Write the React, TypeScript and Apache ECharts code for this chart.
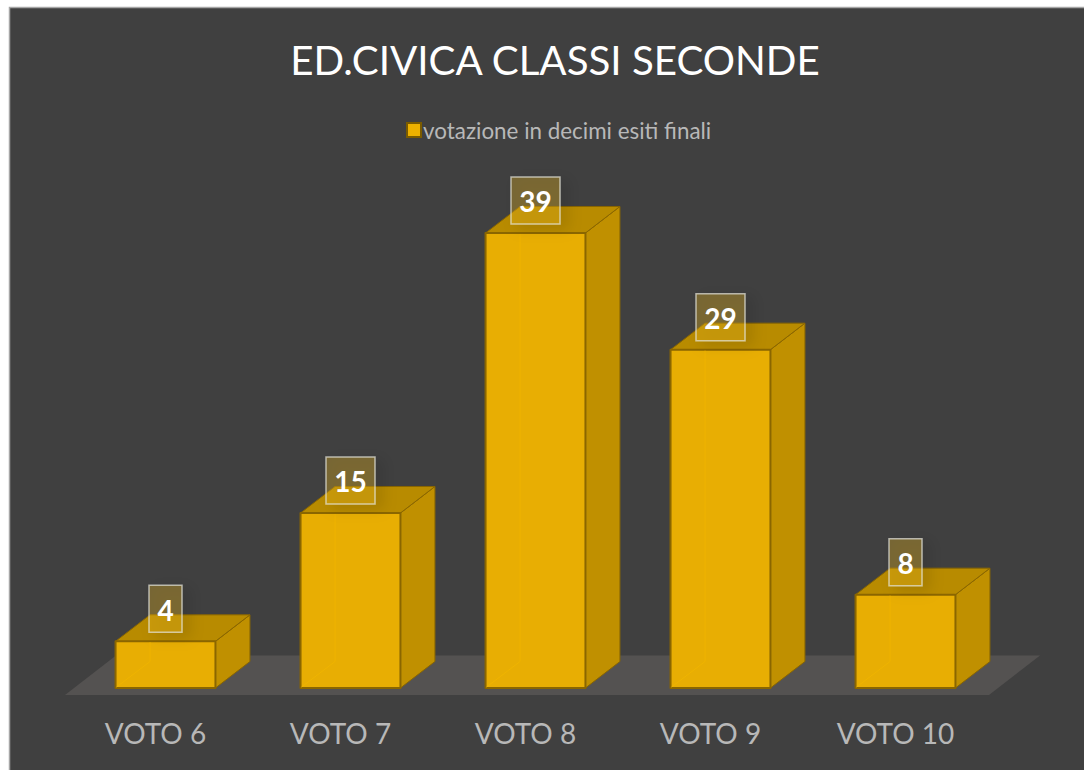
import React, { useEffect, useRef } from "react";
import * as echarts from "echarts";

const categories = ["VOTO 6", "VOTO 7", "VOTO 8", "VOTO 9", "VOTO 10"];
const seriesValues = [4, 15, 39, 29, 8];
const seriesName = "votazione in decimi esiti finali";
const titleText = "ED.CIVICA CLASSI SECONDE";

const FONT = "Lato";
const FRONT = "#E8AE03";
const SIDE = "#C09000";
const TOP = "#B88B00";
const EDGE = "#8A6600";
const DX = 34.5;
const DY = 26.5;

function renderBar(params: any, api: any) {
  const value = api.value(1);
  const top = api.coord([api.value(0), value]);
  const base = api.coord([api.value(0), 0]);
  const w = api.size([1, 0])[0] * 0.54;
  const l = top[0] - w / 2;
  const r = top[0] + w / 2;
  const t = top[1];
  const b = base[1];
  const text = String(value);
  const boxW = text.length > 1 ? 49 : 33;
  const boxH = 47;
  const boxTop = t - 9 - boxH;
  const edgeStyle = { stroke: EDGE, lineWidth: 1.5, lineJoin: "round" };
  return {
    type: "group",
    children: [
      {
        type: "polygon",
        shape: { points: [[r, t], [r + DX, t - DY], [r + DX, b - DY], [r, b]] },
        style: { fill: SIDE, ...edgeStyle, lineWidth: 1 },
      },
      {
        type: "polygon",
        shape: { points: [[l, t], [l + DX, t - DY], [r + DX, t - DY], [r, t]] },
        style: { fill: TOP, ...edgeStyle, lineWidth: 1 },
      },
      {
        type: "rect",
        shape: { x: l, y: t, width: w, height: b - t },
        style: { fill: FRONT, ...edgeStyle, lineWidth: 2 },
      },
      {
        type: "polyline",
        shape: { points: [[l + 1, b - 1], [l + DX, Math.max(t + 1, b - DY)], [l + DX, t + 1]] },
        style: { fill: "none", stroke: "#EFB400", lineWidth: 1 },
      },
      {
        type: "rect",
        shape: { x: top[0] - boxW / 2, y: boxTop, width: boxW, height: boxH },
        style: {
          fill: "rgba(232,180,30,0.32)",
          stroke: "rgba(225,225,215,0.72)",
          lineWidth: 1.5,
          shadowBlur: 14,
          shadowColor: "rgba(0,0,0,0.28)",
          shadowOffsetX: 7,
          shadowOffsetY: 4,
        },
      },
      {
        type: "text",
        x: top[0],
        y: boxTop + boxH / 2 + 1,
        style: {
          text,
          fill: "#FFFFFF",
          font: `bold 28px ${FONT}`,
          align: "center",
          verticalAlign: "middle",
        },
      },
    ],
  };
}

export default function App() {
  const ref = useRef<HTMLDivElement>(null);
  useEffect(() => {
    const chart = echarts.init(ref.current!, undefined, { renderer: "svg" });
    chart.setOption({
      animation: false,
      backgroundColor: "#FFFFFF",
      graphic: [
        {
          type: "rect",
          z: 0,
          shape: { x: 9.5, y: 7.5, width: 1080, height: 770 },
          style: { fill: "#404040", stroke: "#A6A6A6", lineWidth: 1.5 },
        },
        {
          type: "polygon",
          z: 1,
          shape: { points: [[65, 695], [989, 695], [1040, 655.5], [116, 655.5]] },
          style: { fill: "#545251" },
        },
      ],
      title: {
        text: titleText,
        left: 550,
        top: 34,
        textAlign: "center",
        textStyle: { color: "#FFFFFF", fontFamily: FONT, fontWeight: "normal", fontSize: 40.3 },
      },
      legend: {
        data: [{ name: seriesName, icon: "rect" }],
        left: 401,
        top: 114,
        itemWidth: 14,
        itemHeight: 14,
        itemGap: 6,
        selectedMode: false,
        textStyle: { color: "#B8B8B8", fontFamily: FONT, fontSize: 22.4, padding: [0, 0, 0, -3] },
      },
      grid: { left: 73, top: 221.33, width: 925, height: 466.67 },
      xAxis: {
        type: "category",
        data: categories,
        axisLine: { show: false },
        axisTick: { show: false },
        axisLabel: { color: "#B8B8B8", fontFamily: FONT, fontSize: 28, margin: 31, padding: [0, 20, 0, 0] },
      },
      yAxis: { type: "value", min: 0, max: 40, show: false, splitLine: { show: false } },
      series: [
        {
          type: "custom",
          name: seriesName,
          z: 2,
          data: categories.map((_, i) => [i, seriesValues[i]]),
          encode: { x: 0, y: 1 },
          renderItem: renderBar,
          itemStyle: { color: "#EDB100", borderColor: "#7A5B00", borderWidth: 2 },
        },
      ],
    });
    return () => chart.dispose();
  }, []);
  return <div ref={ref} style={{ position: "fixed", left: 0, top: 0, width: 1084, height: 770 }} />;
}
